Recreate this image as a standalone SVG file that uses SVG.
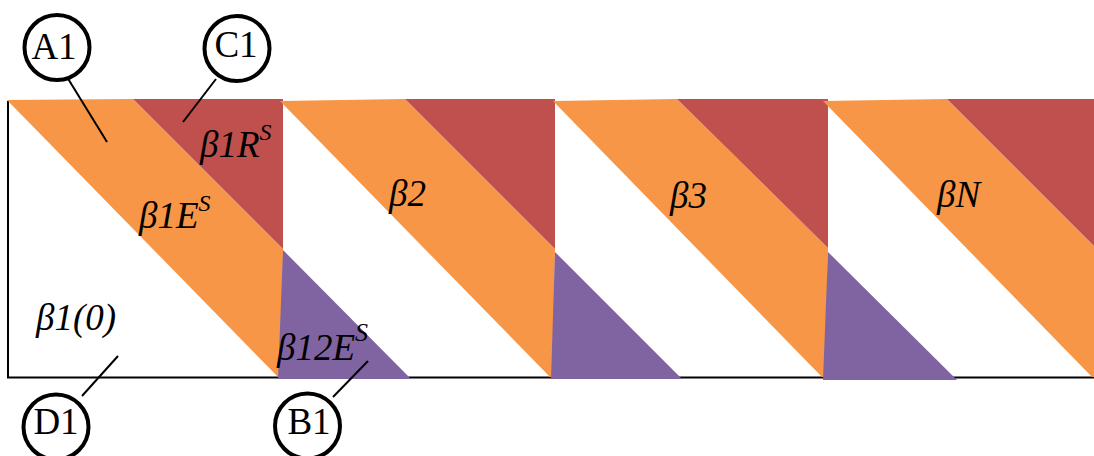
<svg xmlns="http://www.w3.org/2000/svg" width="1094" height="456" viewBox="0 0 1094 456">
<style>
.o{fill:#F79646}
.r{fill:#C0504D}
.p{fill:#8064A2}
.frame{stroke:#000;stroke-width:2;fill:none}
.lead{stroke:#000;stroke-width:2;fill:none}
.circ{fill:#fff;stroke:#000;stroke-width:4}
</style>
<rect width="1094" height="456" fill="#fff"/>
<g id="frame">
<path class="frame" d="M8,101 V377.5 H1094"/>
</g>
<g id="panel1">
<polygon class="o" points="7,100 133,99 283,249 282,377 278,377"/>
<polygon class="r" points="133,99 283,99 283,249"/>
</g>
<g id="panel2">
<polygon class="p" points="283,250 278,379 411,379"/>
<polygon class="o" points="280,101 405,99 555,249 553,377 550,377"/>
<polygon class="r" points="405,99 555,99 555,249"/>
</g>
<g id="panel3">
<polygon class="p" points="555,252 551,379 682,379"/>
<polygon class="o" points="553,101 677,99 828,248 826,377 822,377"/>
<polygon class="r" points="677,99 828,99 828,248"/>
</g>
<g id="panel4">
<polygon class="p" points="828,252 823,380 957,380"/>
<polygon class="o" points="823,101 947,99 1094,246 1094,377 1092,377"/>
<polygon class="r" points="947,99 1094,99 1094,246"/>
</g>
<g id="labels" font-family="Liberation Serif, Times New Roman, serif" font-style="italic" font-size="37" fill="#000">
<text x="200" y="157">β1R<tspan font-size="24" dy="-17">S</tspan></text>
<text x="139" y="228">β1E<tspan font-size="24" dy="-17">S</tspan></text>
<text x="389" y="206">β2</text>
<text x="670" y="208">β3</text>
<text x="937" y="207">βN</text>
<text x="36" y="330">β1(0)</text>
<text x="277" y="360">β12E<tspan font-size="26" dy="-19">S</tspan></text>
</g>
<g id="connectors">
<line class="lead" x1="67" y1="77" x2="107" y2="142"/>
<line class="lead" x1="216" y1="79" x2="183" y2="122"/>
<line class="lead" x1="82" y1="396" x2="118" y2="356"/>
<line class="lead" x1="333" y1="397" x2="368" y2="361"/>
</g>
<g font-family="Liberation Serif, Times New Roman, serif" font-size="37" text-anchor="middle" fill="#000">
<g id="A1">
<circle class="circ" cx="57" cy="47.5" r="32.5"/>
<text x="54" y="59">A1</text>
</g>
<g id="C1">
<circle class="circ" cx="237" cy="48.5" r="32.5"/>
<text x="236" y="57">C1</text>
</g>
<g id="D1">
<circle class="circ" cx="56" cy="427" r="32.5"/>
<text x="56" y="434">D1</text>
</g>
<g id="B1">
<circle class="circ" cx="307.5" cy="426" r="32.5"/>
<text x="309" y="434">B1</text>
</g>
</g>
</svg>
